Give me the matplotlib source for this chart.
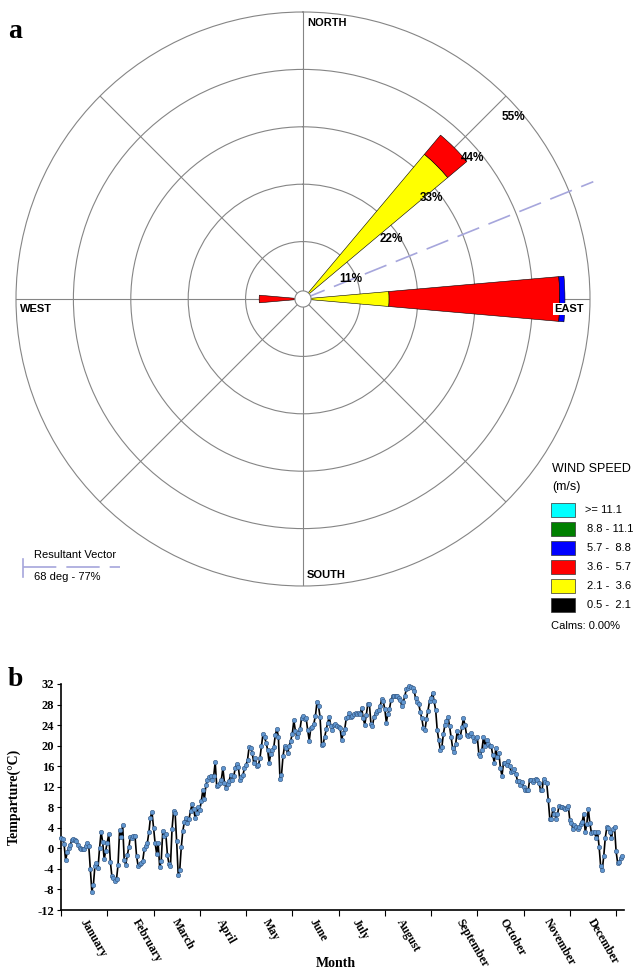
import numpy as np
import matplotlib
matplotlib.use("Agg")
import matplotlib.pyplot as plt
from matplotlib.patches import Rectangle
from matplotlib.lines import Line2D

# ---------------- data: wind rose ----------------
directions_deg = [45, 90, 270]
speed_labels = [">= 11.1", "8.8 - 11.1", "5.7 -  8.8", "3.6 -  5.7", "2.1 -  3.6", "0.5 -  2.1"]
speed_colors = ["#00ffff", "#008000", "#0000ff", "#ff0000", "#ffff00", "#000000"]
# frequencies (%) per speed class (lowest first) for each direction
freq_05_21 = [0.0, 0.0, 0.0]
freq_21_36 = [36.2, 16.5, 0.0]
freq_36_57 = [4.8, 32.7, 8.4]
freq_57_88 = [0.0, 1.0, 0.0]
freq_88_111 = [0.0, 0.0, 0.0]
freq_111 = [0.0, 0.0, 0.0]
ring_values = [11, 22, 33, 44, 55]
resultant_deg = 68
resultant_len = 60
calms = "Calms: 0.00%"

# ---------------- data: temperature ----------------
temperature = [
    2.0, 1.8, 0.8, -2.3, -0.8, 0.0, 0.6, 1.6, 1.9, 1.6,
    1.4, 0.6, 0.0, -0.2, -0.2, -0.1, 0.5, 1.0, 0.5, -4.1,
    -8.4, -7.1, -3.4, -2.8, -3.8, 0.0, 3.2, 1.3, -2.1, -0.5,
    1.0, 2.8, -2.6, -5.4, -5.8, -6.3, -6.0, -3.2, 3.6, 2.3,
    4.5, -2.3, -3.2, -1.3, 0.2, 2.3, 2.0, 2.4, 2.4, -1.5,
    -3.4, -3.1, -2.8, -2.4, -0.2, 0.5, 1.1, 3.1, 6.0, 7.1,
    4.0, 1.1, -1.0, 1.1, -3.7, -2.4, 3.4, 2.5, 2.7, -1.2,
    -3.0, -3.4, 3.7, 7.3, 6.9, 1.4, -5.1, -4.3, 0.2, 3.4,
    5.1, 5.9, 5.0, 5.7, 7.3, 8.6, 7.6, 6.0, 6.8, 8.0,
    7.5, 9.2, 11.4, 9.6, 12.3, 13.4, 13.8, 14.1, 13.3, 14.0,
    16.8, 12.1, 12.3, 12.7, 13.4, 15.6, 12.8, 11.7, 12.5, 13.1,
    14.3, 13.4, 14.0, 15.6, 16.4, 15.8, 13.4, 13.8, 14.3, 15.6,
    16.2, 17.3, 19.7, 19.5, 18.6, 16.7, 17.5, 16.0, 16.2, 17.5,
    19.9, 22.3, 21.6, 20.6, 19.2, 16.7, 18.3, 19.2, 19.7, 22.1,
    23.2, 21.7, 13.6, 14.3, 18.0, 19.9, 19.5, 18.5, 19.9, 21.0,
    22.3, 24.9, 22.9, 21.7, 22.5, 23.2, 25.3, 25.8, 25.1, 25.3,
    23.0, 21.0, 23.4, 23.7, 24.3, 25.8, 28.4, 27.7, 25.6, 20.1,
    20.3, 21.7, 23.2, 24.5, 25.6, 23.8, 23.0, 24.0, 24.3, 23.8,
    23.7, 23.4, 21.1, 22.4, 23.2, 25.3, 25.6, 26.4, 25.5, 25.8,
    26.2, 26.4, 26.2, 26.4, 26.2, 27.3, 25.3, 24.1, 26.0, 28.1,
    28.1, 24.3, 23.8, 25.6, 26.3, 26.8, 26.9, 27.7, 29.0, 28.6,
    27.1, 24.5, 26.2, 27.1, 28.8, 29.7, 29.7, 29.6, 29.7, 29.2,
    28.9, 27.8, 28.4, 29.7, 31.0, 31.2, 31.6, 31.4, 31.2, 30.7,
    29.2, 28.4, 28.1, 26.6, 25.3, 23.4, 23.0, 25.1, 26.8, 28.6,
    29.2, 30.3, 28.6, 26.9, 23.0, 21.1, 19.2, 19.7, 22.3, 24.0,
    24.8, 25.5, 23.8, 21.6, 19.5, 18.8, 20.4, 22.9, 21.7, 21.8,
    23.6, 25.3, 24.0, 22.1, 21.8, 22.1, 22.4, 21.7, 21.0, 21.5,
    21.6, 18.4, 18.0, 19.2, 21.7, 19.9, 21.1, 20.3, 19.9, 19.9,
    18.2, 16.7, 19.5, 17.7, 18.5, 15.6, 14.1, 16.7, 16.7, 16.2,
    17.1, 16.0, 14.9, 15.1, 15.4, 14.5, 13.2, 13.2, 12.3, 13.0,
    12.0, 11.4, 11.4, 11.4, 13.4, 13.4, 13.0, 13.4, 13.6, 13.3,
    12.7, 11.4, 11.4, 13.6, 13.0, 12.7, 9.5, 5.8, 5.7, 7.6,
    6.7, 5.8, 6.7, 8.2, 8.1, 8.0, 7.8, 7.6, 7.8, 8.2,
    5.5, 5.0, 3.7, 4.5, 4.1, 3.7, 4.2, 4.7, 5.2, 6.7,
    3.1, 4.8, 7.6, 4.9, 3.0, 3.1, 3.1, 2.1, 3.1, 0.3,
    -3.5, -4.3, -1.5, 2.1, 4.1, 3.9, 3.1, 2.0, 3.7, 4.2,
    -0.6, -2.8, -2.6, -1.9, -1.5,
]
days = list(range(len(temperature)))
month_names = ["January", "February", "March", "April", "May", "June", "July",
               "August", "September", "October", "November", "December"]
month_label_pos = [17.5, 51.2, 77.2, 105.7, 135.5, 166.0, 194.0, 222.6, 261.0, 289.4, 318.0, 346.6]
x_ticks = list(range(0, 361, 30))
y_ticks = list(range(-12, 33, 4))

# ---------------- figure ----------------
W, H = 634, 971
fig = plt.figure(figsize=(W / 100, H / 100), dpi=100)
SANS = ["Liberation Sans", "DejaVu Sans"]
SERIF = ["Liberation Serif", "DejaVu Serif"]

def fx(px):
    return px / W

def fy(py):
    return 1 - py / H

# ---- polar wind rose ----
cx, cy, R = 303, 299, 287
ax = fig.add_axes([fx(cx - R), fy(cy + R), 2 * R / W, 2 * R / H], projection="polar")
ax.set_theta_zero_location("N")
ax.set_theta_direction(-1)
ax.set_ylim(0, ring_values[-1])
grid_c = "#858585"
ax.set_rgrids(ring_values[:-1], labels=[""] * (len(ring_values) - 1))
ax.set_thetagrids(range(0, 360, 45), labels=[""] * 8)
ax.grid(True, color=grid_c, lw=0.8)
ax.spines["polar"].set_color(grid_c)
ax.spines["polar"].set_linewidth(0.8)
ax.tick_params(length=0)

classes = [freq_05_21, freq_21_36, freq_36_57, freq_57_88, freq_88_111, freq_111]
class_colors = speed_colors[::-1]
theta = np.deg2rad(directions_deg)
bottom = np.zeros(len(directions_deg))
for vals, col in zip(classes, class_colors):
    vals = np.array(vals)
    m = vals > 0
    if m.any():
        ax.bar(theta[m], vals[m], width=np.deg2rad(10), bottom=bottom[m],
               color=col, edgecolor="black", linewidth=0.4, zorder=3)
    bottom = bottom + vals

# resultant vector
ax.plot([np.deg2rad(resultant_deg)] * 2, [0, resultant_len], color="#a6a6dc",
        lw=1.2, linestyle=(0, (14, 6)), clip_on=False, zorder=4)

# calm centre circle
tt = np.linspace(0, 2 * np.pi, 100)
ax.fill(tt, np.full_like(tt, 1.55), facecolor="white", edgecolor=grid_c, lw=0.8, zorder=6)

# percent labels
for rv in ring_values:
    ax.annotate(f"{rv}%", xy=(np.deg2rad(45), rv), xytext=(7, -21),
                textcoords="offset pixels", ha="center", va="center",
                fontsize=8.5, fontweight="bold", family=SANS, zorder=7,
                annotation_clip=False)

# direction labels
dir_kw = dict(fontsize=8, fontweight="bold", family=SANS,
              bbox=dict(facecolor="white", edgecolor="none", pad=0.5))
fig.text(fx(307), fy(22.5), "NORTH", ha="left", va="center", **dir_kw)
fig.text(fx(307), fy(575), "SOUTH", ha="left", va="center", **dir_kw)
fig.text(fx(554), fy(309), "EAST", ha="left", va="center", zorder=10, **dir_kw)
fig.text(fx(20), fy(309), "WEST", ha="left", va="center", **dir_kw)

fig.text(fx(8), fy(32), "a", fontsize=20, fontweight="bold", family=SERIF,
         ha="left", va="center")

# legend
fig.text(fx(552), fy(469), "WIND SPEED", fontsize=9, family=SANS, ha="left", va="center")
fig.text(fx(552), fy(487), "(m/s)", fontsize=9, family=SANS, ha="left", va="center")
row_y = [509.7, 529, 547.7, 566.7, 585.7, 605]
for lab, col, ry in zip(speed_labels, speed_colors, row_y):
    fig.add_artist(Rectangle((fx(551), fy(ry + 7)), 24 / W, 14 / H,
                             transform=fig.transFigure, facecolor=col,
                             edgecolor="#333333", lw=0.5))
    xoff = 585 if lab.startswith(">=") else 587
    fig.text(fx(xoff), fy(ry), lab, fontsize=8, family=SANS, ha="left", va="center")
fig.text(fx(551), fy(626), calms, fontsize=8, family=SANS, ha="left", va="center")

# resultant vector legend
fig.add_artist(Line2D([fx(23), fx(120)], [fy(567), fy(567)], transform=fig.transFigure,
                      color="#a6a6dc", lw=1.2, linestyle=(0, (20, 6))))
fig.add_artist(Line2D([fx(23), fx(23)], [fy(559), fy(577)], transform=fig.transFigure,
                      color="#a6a6dc", lw=1.2))
fig.text(fx(34), fy(555), "Resultant Vector", fontsize=8, family=SANS, ha="left", va="center")
fig.text(fx(34), fy(577), f"{resultant_deg} deg - 77%", fontsize=8, family=SANS,
         ha="left", va="center")

# ---- temperature chart ----
x0, x1, y0, y1 = 61, 623.8, 684, 910
ax2 = fig.add_axes([fx(x0), fy(y1), (x1 - x0) / W, (y1 - y0) / H])
ax2.plot(days, temperature, color="black", lw=1.2, marker="o", markersize=3.2,
         markerfacecolor="#6096d0", markeredgecolor="#34557f", markeredgewidth=0.4,
         clip_on=False, zorder=3)
ax2.set_xlim(0, 365)
ax2.set_ylim(-12, 32)
ax2.set_yticks(y_ticks)
ax2.set_yticklabels([str(v) for v in y_ticks], fontsize=9, fontweight="bold", family=SERIF)
ax2.set_xticks(x_ticks)
ax2.set_xticklabels([""] * len(x_ticks))
ax2.tick_params(axis="x", direction="out", length=4, width=0.8)
ax2.tick_params(axis="y", direction="out", length=3, width=0.8, pad=2)
for s in ["top", "right"]:
    ax2.spines[s].set_visible(False)
for s in ["left", "bottom"]:
    ax2.spines[s].set_linewidth(1.2)
trans = ax2.get_xaxis_transform()
for name, pos in zip(month_names, month_label_pos):
    ax2.text(pos, -0.03, name, transform=trans, rotation=-60, rotation_mode="anchor",
             ha="left", va="top", fontsize=8.5, fontweight="bold", family=SERIF)
ax2.set_ylabel("Temparture(°C)", fontsize=10, fontweight="bold", family=SERIF)
ax2.yaxis.set_label_coords(-(x0 - 20.5) / (x1 - x0), 0.5)
fig.text(fx(336), fy(969.5), "Month", fontsize=10, fontweight="bold", family=SERIF,
         ha="center", va="bottom")
fig.text(fx(8), fy(679), "b", fontsize=20, fontweight="bold", family=SERIF,
         ha="left", va="center")

fig.savefig("out.png", dpi=100)
